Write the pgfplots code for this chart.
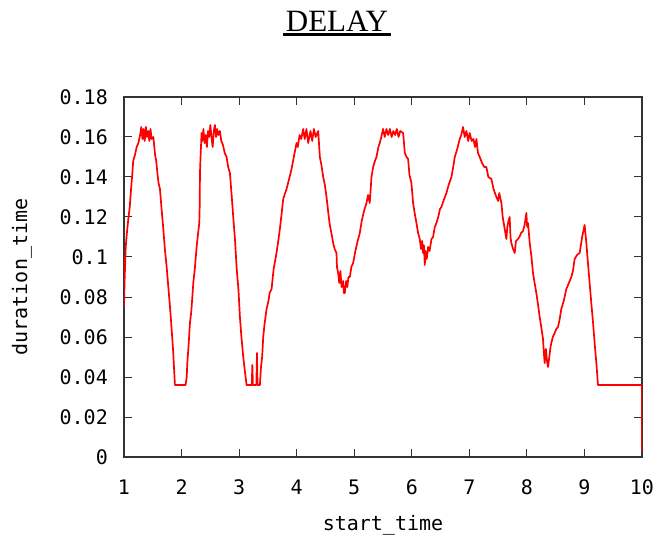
\documentclass[border=0pt]{standalone}
\usepackage{fontspec}
\usepackage{pgfplots}
\pgfplotsset{compat=1.18}
\newfontfamily\monofont{DejaVu Sans Mono}
\newfontfamily\titlefont{Liberation Serif}

\pgfplotstableread{
x y
1.000 0.100
1.000 0.075
1.010 0.088
1.030 0.105
1.050 0.112
1.075 0.119
1.100 0.125
1.120 0.133
1.140 0.140
1.160 0.148
1.190 0.151
1.220 0.155
1.250 0.157
1.280 0.161
1.300 0.165
1.320 0.159
1.340 0.164
1.360 0.158
1.380 0.165
1.400 0.160
1.420 0.163
1.440 0.158
1.460 0.164
1.480 0.159
1.510 0.160
1.540 0.151
1.560 0.148
1.580 0.142
1.600 0.137
1.625 0.134
1.650 0.125
1.683 0.114
1.710 0.104
1.741 0.095
1.770 0.085
1.799 0.075
1.830 0.063
1.856 0.052
1.870 0.044
1.885 0.036
2.070 0.036
2.090 0.040
2.100 0.047
2.120 0.055
2.146 0.067
2.170 0.073
2.204 0.087
2.230 0.094
2.262 0.105
2.280 0.110
2.308 0.117
2.315 0.125
2.320 0.142
2.330 0.150
2.348 0.162
2.360 0.158
2.380 0.164
2.400 0.157
2.420 0.161
2.440 0.155
2.460 0.163
2.480 0.160
2.500 0.166
2.520 0.160
2.540 0.155
2.560 0.163
2.580 0.166
2.600 0.160
2.620 0.164
2.640 0.161
2.667 0.163
2.690 0.158
2.720 0.156
2.750 0.152
2.782 0.150
2.810 0.145
2.840 0.142
2.870 0.131
2.898 0.120
2.930 0.108
2.956 0.095
2.990 0.083
3.014 0.070
3.040 0.060
3.072 0.050
3.100 0.043
3.130 0.036
3.220 0.036
3.230 0.046
3.240 0.036
3.300 0.036
3.310 0.052
3.320 0.036
3.361 0.036
3.380 0.045
3.400 0.050
3.419 0.060
3.440 0.066
3.477 0.074
3.510 0.078
3.530 0.082
3.564 0.084
3.600 0.094
3.650 0.102
3.680 0.108
3.708 0.114
3.740 0.122
3.766 0.129
3.800 0.132
3.824 0.134
3.860 0.138
3.911 0.144
3.950 0.150
3.998 0.157
4.020 0.155
4.050 0.161
4.080 0.159
4.113 0.164
4.140 0.159
4.170 0.164
4.200 0.157
4.240 0.163
4.270 0.158
4.300 0.164
4.330 0.160
4.374 0.163
4.403 0.150
4.430 0.146
4.461 0.140
4.490 0.136
4.519 0.130
4.550 0.122
4.576 0.116
4.610 0.111
4.634 0.107
4.660 0.104
4.692 0.102
4.700 0.095
4.721 0.092
4.740 0.087
4.760 0.093
4.780 0.085
4.808 0.088
4.820 0.082
4.837 0.082
4.860 0.088
4.880 0.085
4.900 0.090
4.924 0.090
4.950 0.095
4.981 0.097
5.020 0.103
5.060 0.108
5.097 0.112
5.130 0.118
5.170 0.123
5.213 0.127
5.240 0.131
5.270 0.127
5.300 0.140
5.329 0.145
5.360 0.148
5.387 0.150
5.420 0.155
5.444 0.157
5.470 0.160
5.502 0.164
5.530 0.160
5.560 0.164
5.590 0.161
5.620 0.164
5.650 0.160
5.680 0.163
5.710 0.161
5.740 0.164
5.770 0.160
5.800 0.163
5.850 0.162
5.879 0.152
5.910 0.150
5.936 0.149
5.960 0.141
5.994 0.137
6.023 0.127
6.050 0.122
6.081 0.117
6.110 0.112
6.139 0.109
6.160 0.104
6.180 0.108
6.197 0.102
6.210 0.106
6.226 0.096
6.240 0.103
6.260 0.099
6.284 0.105
6.310 0.103
6.342 0.109
6.370 0.110
6.400 0.115
6.428 0.117
6.460 0.120
6.490 0.124
6.515 0.125
6.550 0.128
6.602 0.132
6.640 0.136
6.689 0.140
6.720 0.145
6.747 0.150
6.790 0.154
6.833 0.159
6.860 0.161
6.891 0.165
6.920 0.160
6.950 0.163
6.980 0.158
7.007 0.162
7.040 0.158
7.070 0.159
7.100 0.155
7.123 0.159
7.150 0.152
7.181 0.150
7.220 0.147
7.260 0.145
7.296 0.145
7.330 0.140
7.383 0.139
7.420 0.134
7.470 0.130
7.500 0.128
7.520 0.132
7.557 0.127
7.580 0.120
7.615 0.114
7.644 0.109
7.660 0.115
7.680 0.118
7.701 0.120
7.715 0.110
7.730 0.107
7.760 0.104
7.788 0.102
7.810 0.108
7.846 0.109
7.870 0.110
7.900 0.112
7.933 0.113
7.960 0.116
7.991 0.122
8.005 0.115
8.020 0.117
8.049 0.107
8.080 0.100
8.106 0.092
8.140 0.086
8.164 0.082
8.190 0.077
8.222 0.070
8.250 0.065
8.280 0.059
8.295 0.052
8.309 0.047
8.330 0.054
8.350 0.048
8.367 0.045
8.390 0.050
8.410 0.055
8.425 0.057
8.450 0.060
8.483 0.062
8.510 0.064
8.541 0.065
8.570 0.069
8.598 0.074
8.640 0.078
8.685 0.084
8.730 0.087
8.772 0.090
8.800 0.093
8.830 0.099
8.870 0.101
8.917 0.102
8.960 0.110
9.003 0.116
9.030 0.108
9.061 0.097
9.090 0.087
9.119 0.077
9.150 0.067
9.177 0.057
9.210 0.046
9.235 0.036
10.000 0.036
10.000 0.003
}\delaydata

\begin{document}
\begin{tikzpicture}[x=1pt,y=1pt]
\useasboundingbox (0,0) rectangle (658,536);
% title, underlined like the original
\node[font=\titlefont\fontsize{31}{34}\selectfont, anchor=base, inner sep=0pt] at (337,504.3) {DELAY};
\draw[line width=2.5pt] (283,501.5) -- (391,501.5);
\begin{axis}[
  at={(124pt,79pt)}, anchor=south west,
  width=518pt, height=360pt, scale only axis,
  xmin=1, xmax=10, ymin=0, ymax=0.18,
  xtick={1,...,10},
  ytick={0,0.02,...,0.18},
  yticklabels={0,0.02,0.04,0.06,0.08,0.1,0.12,0.14,0.16,0.18},
  /pgf/number format/assume math mode=true,
  tick label style={font=\monofont\fontsize{20}{22}\selectfont},
  xticklabel style={anchor=center, yshift=-30pt},
  yticklabel style={anchor=east, inner sep=0pt, xshift=-16pt},
  scaled y ticks=false,
  axis line style={black!80, line width=1.3pt},
  major tick length=8pt,
  tick style={black!80, line width=1pt},
  xlabel={start\_time}, ylabel={duration\_time},
  label style={font=\monofont\fontsize{20}{22}\selectfont},
  xlabel style={at={(axis description cs:0.5,0)}, anchor=center, yshift=-68pt},
  ylabel style={at={(axis description cs:0,0.5)}, anchor=center, rotate=0, yshift=102pt},
]
\addplot[red, line width=1.7pt, line join=round] table[x=x, y=y] {\delaydata};
\end{axis}
\end{tikzpicture}
\end{document}
